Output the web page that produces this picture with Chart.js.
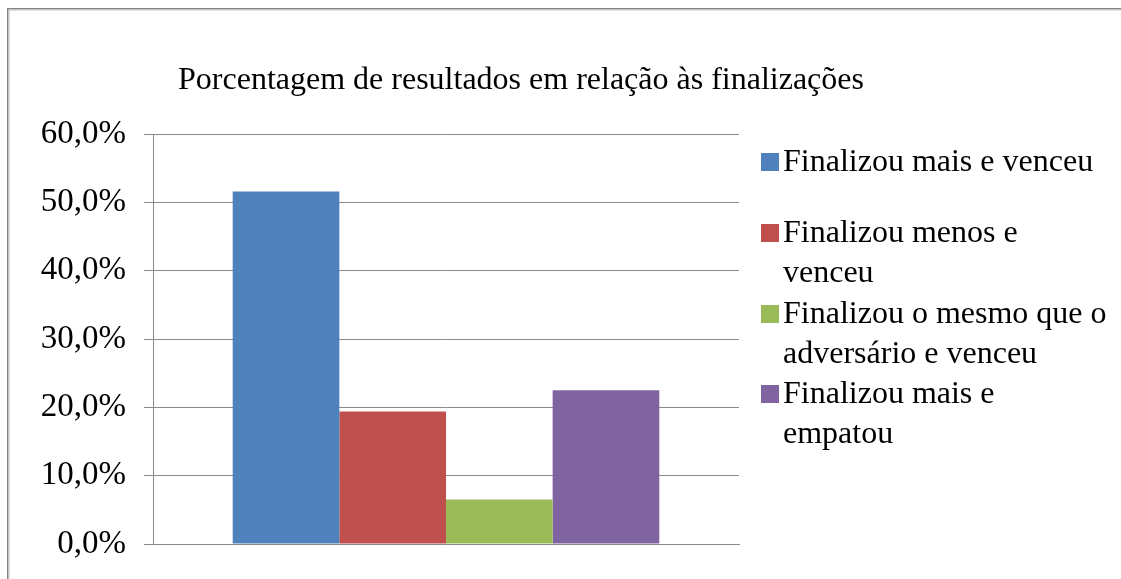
<!DOCTYPE html>
<html>
<head>
<meta charset="utf-8">
<script src="https://cdn.jsdelivr.net/npm/chart.js@4/dist/chart.umd.min.js"></script>
<style>
  html, body { margin: 0; padding: 0; background: #fff; }
  #wrap { width: 1121px; height: 579px; position: relative; }
</style>
</head>
<body>
<div id="wrap"><canvas id="chart" width="1121" height="579"></canvas></div>
<script>
const chartTitle = "Porcentagem de resultados em relação às finalizações";
const categories = [""];
const seriesNames = ["Finalizou mais e venceu", "Finalizou menos e venceu", "Finalizou o mesmo que o adversário e venceu", "Finalizou mais e empatou"];
// legend text as Excel wrapped it
const legendLines = [
    ["Finalizou mais e venceu"],
    ["Finalizou menos e", "venceu"],
    ["Finalizou o mesmo que o", "adversário e venceu"],
    ["Finalizou mais e", "empatou"],
];
const seriesValues = [51.6, 19.4, 6.5, 22.5];
const seriesColors = ["#4F81BD", "#C0504D", "#9BBB59", "#8064A2"];
const yTicks = [0, 10, 20, 30, 40, 50, 60];

const FONT = "'Liberation Serif', 'Times New Roman', serif";
const GRID = "#8a8a8a";

// white background + outer frame
const framePlugin = {
    id: "frame",
    beforeDraw(chart) {
        const ctx = chart.ctx;
        ctx.save();
        ctx.fillStyle = "#fff";
        ctx.fillRect(0, 0, chart.width, chart.height);
        ctx.fillStyle = "#858585";
        ctx.fillRect(7, 8, chart.width - 7, 1.5);
        ctx.fillRect(7, 8, 1.5, chart.height - 8);
        ctx.fillStyle = "#c4c4c4";
        ctx.fillRect(8.5, 9.5, chart.width - 8.5, 1);
        ctx.fillRect(8.5, 9.5, 1, chart.height - 9.5);
        ctx.restore();
    },
};

// title + right-hand legend, placed like the Excel original
const textPlugin = {
    id: "texts",
    afterDraw(chart) {
        const ctx = chart.ctx;
        ctx.save();
        ctx.fillStyle = "#000";
        ctx.font = "32px " + FONT;
        ctx.textAlign = "center";
        ctx.textBaseline = "alphabetic";
        ctx.fillText(chartTitle, 521, 89);

        const baselines = [[171], [242, 282], [323, 363], [403, 443]];
        ctx.textAlign = "left";
        legendLines.forEach((lines, i) => {
            const b = baselines[i];
            ctx.fillStyle = seriesColors[i];
            ctx.fillRect(761, b[0] - 18, 18, 18);
            ctx.fillStyle = "#000";
            lines.forEach((t, j) => ctx.fillText(t, 783, b[j]));
        });
        ctx.restore();
    },
};

new Chart(document.getElementById("chart"), {
    type: "bar",
    data: {
        labels: categories,
        datasets: seriesNames.map((name, i) => ({
            label: name,
            data: [seriesValues[i]],
            backgroundColor: seriesColors[i],
            borderWidth: 0,
            categoryPercentage: 0.728,
            barPercentage: 1.0,
        })),
    },
    options: {
        responsive: false,
        animation: false,
        layout: { padding: { left: 0, top: 134, right: 382, bottom: 35 } },
        plugins: {
            legend: { display: false },
            title: { display: false },
            tooltip: { enabled: false },
        },
        scales: {
            x: {
                ticks: { display: false },
                grid: { display: false },
                border: { display: true, color: GRID, width: 1 },
                afterFit: s => { s.height = 0; },
            },
            y: {
                min: 0,
                max: 60,
                afterBuildTicks: s => { s.ticks = yTicks.map(v => ({ value: v })); },
                ticks: {
                    color: "#000",
                    font: { family: FONT, size: 33 },
                    padding: 18,
                    callback: v => v.toFixed(1).replace(".", ",") + "%",
                },
                grid: { color: GRID, lineWidth: 1, tickLength: 9, drawTicks: true },
                border: { display: true, color: GRID, width: 1 },
                afterFit: s => {
                    s.width = 153;
                    s.paddingTop = 0;
                    s.paddingBottom = 0;
                },
            },
        },
    },
    plugins: [framePlugin, textPlugin],
});
</script>
</body>
</html>
